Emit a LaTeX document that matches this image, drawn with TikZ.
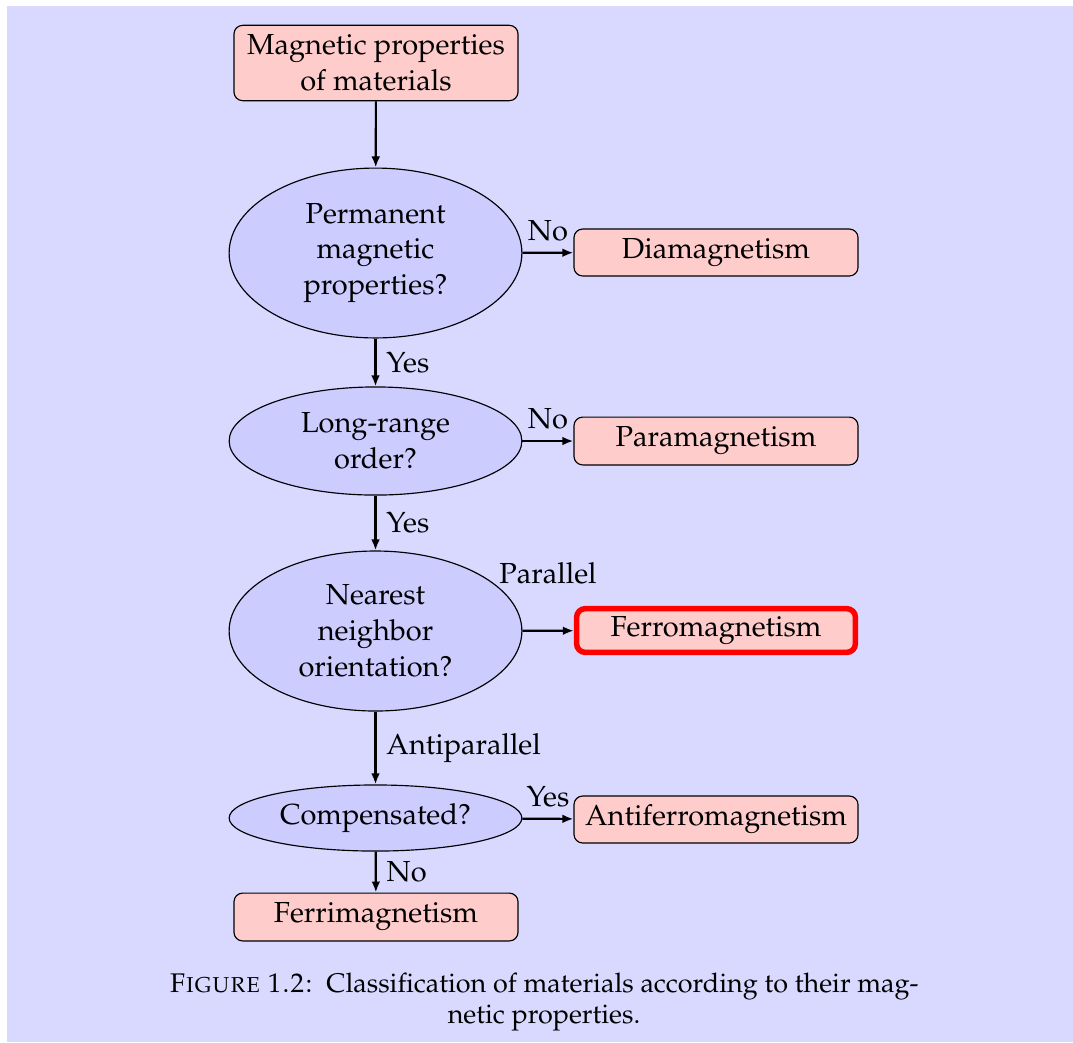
\documentclass[tikz,border=0pt]{standalone}
\usepackage[T1]{fontenc}
\usepackage{mathpazo}
\usetikzlibrary{shapes.geometric,arrows.meta}

\definecolor{pagebg}{RGB}{217,217,255}
\definecolor{askfill}{RGB}{204,204,255}
\definecolor{endfill}{RGB}{255,204,204}

\tikzset{
  endbox/.style={draw=black, line width=0.4pt, fill=endfill, rounded corners=3pt,
    minimum width=98pt, inner sep=0pt, align=center},
  askbox/.style={ellipse, draw=black, line width=0.4pt, fill=askfill,
    minimum width=101pt, inner sep=0pt, align=center},
  flow/.style={draw=black, line width=0.75pt, -{Latex[length=3.8pt,width=3pt]}},
  sidelbl/.style={inner sep=1pt, right, xshift=2.4pt},
  toplbl/.style={inner sep=1pt, above, yshift=2.6pt}
}

\begin{document}
\begin{tikzpicture}[x=0.345pt, y=-0.345pt, font=\fontsize{10}{12.4}\selectfont]
  % page frame and tinted background
  \useasboundingbox (0,0) rectangle (1073,1042);
  \fill[white] (0,0) rectangle (1073,1042);
  \fill[pagebg] (7,6) rectangle (1073,1042);

  % left column: questions
  \node[endbox, minimum height=26pt] (start) at (376,63) {Magnetic properties\\of materials};
  \node[askbox, minimum height=58.6pt] (perm) at (375.5,253) {Permanent\\magnetic\\properties?};
  \node[askbox, minimum height=37.3pt] (order) at (375.5,441) {Long-range\\order?};
  \node[askbox, minimum height=55.2pt] (orient) at (375.5,631) {Nearest\\neighbor\\orientation?};
  \node[askbox, minimum height=22.8pt] (comp) at (375.5,818) {Compensated?};
  \node[endbox, minimum height=16.5pt] (ferri) at (376,917) {Ferrimagnetism};

  % right column: outcomes
  \node[endbox, minimum height=16.2pt] (dia) at (716,252.5) {Diamagnetism};
  \node[endbox, minimum height=16.5pt] (para) at (716,441) {Paramagnetism};
  \node[endbox, draw=red, line width=1.9pt, minimum width=96.2pt, minimum height=15.1pt]
    (ferro) at (716,630.5) {Ferromagnetism};
  \node[endbox, minimum height=16.2pt] (anti) at (716,819.5) {Antiferromagnetism};

  % connectors
  \draw[flow] (start) -- (perm);
  \draw[flow] (perm) -- node[sidelbl] {Yes} (order);
  \draw[flow] (order) -- node[sidelbl] {Yes} (orient);
  \draw[flow] (orient) -- node[sidelbl] {Antiparallel} (comp);
  \draw[flow] (comp) -- node[sidelbl] {No} (ferri);
  \draw[flow] (perm) -- node[toplbl] {No} (dia);
  \draw[flow] (order) -- node[toplbl] {No} (para);
  \draw[flow] (orient) -- (ferro);
  \draw[flow] (comp) -- node[toplbl] {Yes} (anti);
  \node[inner sep=1pt] (parlbl) at (548,573) {Parallel};

  % caption
  \node[align=center, font=\fontsize{9.3}{11}\selectfont] (cap) at (544,1002)
    {\textsc{Figure 1.2:}\enspace Classification of materials according to their mag-\\netic properties.};
\end{tikzpicture}
\end{document}
